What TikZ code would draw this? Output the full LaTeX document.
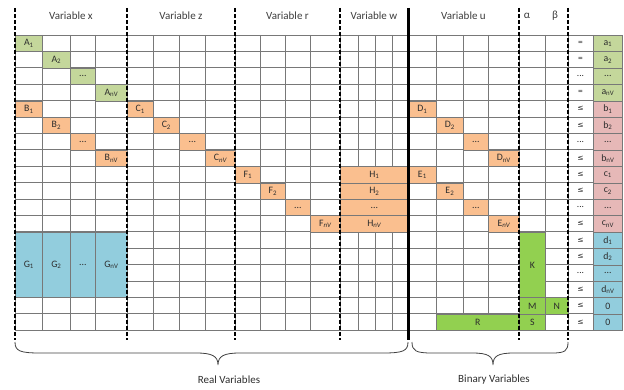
\documentclass[tikz,border=0pt]{standalone}
\usepackage{fontspec}
\setmainfont{Carlito}
\newfontfamily\symfont{DejaVu Sans}
\definecolor{cgreen}{RGB}{196,215,155}
\definecolor{corange}{RGB}{250,191,143}
\definecolor{cblue}{RGB}{146,205,221}
\definecolor{cpink}{RGB}{230,184,183}
\definecolor{cbright}{RGB}{146,208,80}
\definecolor{gridgray}{RGB}{120,120,120}
\definecolor{txt}{RGB}{45,45,45}
\definecolor{hdr}{RGB}{60,60,60}
\newcommand{\ssub}[1]{\textsubscript{#1}}
\newcommand{\myle}{{\symfont\fontsize{7.5}{8}\selectfont ≤}}
\newcommand{\mycell}[7]{\node[cellnode, fill=#6, minimum width={(#3-#2)*1pt}, minimum height={(#5-#4)*16.4pt}, anchor=north west] (#1) at (#2, {35+16.4*#4}) {#7};}
\newcommand{\myrel}[3]{\node[relnode] (#1) at (580.5, {35+16.4*#2+8.2}) {#3};}
\tikzset{
  cellnode/.style={draw=gridgray, line width=0.7pt, inner sep=0pt, text=txt, font=\fontsize{9.8}{10}\selectfont},
  relnode/.style={inner sep=0pt, text=txt, font=\fontsize{9.5}{10}\selectfont},
  gridline/.style={draw=gridgray, line width=0.7pt},
  dashline/.style={draw=black, line width=1.8pt, dash pattern=on 4pt off 2pt},
  thickline/.style={draw=black, line width=3pt},
  header/.style={text=hdr, font=\fontsize{11}{12}\selectfont, inner sep=0pt},
  bracetext/.style={text=txt, font=\fontsize{11}{12}\selectfont, inner sep=0pt},
  bracepath/.style={draw=black!75, line width=0.8pt}
}
\begin{document}
\begin{tikzpicture}[x=1pt,y=-1pt]
\useasboundingbox (0,0) rectangle (624,390);
% grid
\foreach \x in {15,42,70,95,127,153,179,205,235,260,285,310,340,358,375,392,408,436,463,488,519,545,568,593,622}
  \draw[gridline] (\x,35) -- (\x,330.2);
\foreach \i in {0,...,18}
  \draw[gridline] (15,{35+16.4*\i}) -- (622,{35+16.4*\i});
% A
\mycell{a1}{15}{42}{0}{1}{cgreen}{A\ssub{1}}
\mycell{a2}{42}{70}{1}{2}{cgreen}{A\ssub{2}}
\mycell{a3}{70}{95}{2}{3}{cgreen}{...}
\mycell{a4}{95}{127}{3}{4}{cgreen}{A\ssub{nV}}
% B
\mycell{b1}{15}{42}{4}{5}{corange}{B\ssub{1}}
\mycell{b2}{42}{70}{5}{6}{corange}{B\ssub{2}}
\mycell{b3}{70}{95}{6}{7}{corange}{...}
\mycell{b4}{95}{127}{7}{8}{corange}{B\ssub{nV}}
% C
\mycell{c1}{127}{153}{4}{5}{corange}{C\ssub{1}}
\mycell{c2}{153}{179}{5}{6}{corange}{C\ssub{2}}
\mycell{c3}{179}{205}{6}{7}{corange}{...}
\mycell{c4}{205}{235}{7}{8}{corange}{C\ssub{\itshape nV}}
% D
\mycell{d1}{408}{436}{4}{5}{corange}{D\ssub{1}}
\mycell{d2}{436}{463}{5}{6}{corange}{D\ssub{2}}
\mycell{d3}{463}{488}{6}{7}{corange}{...}
\mycell{d4}{488}{519}{7}{8}{corange}{D\ssub{nV}}
% F
\mycell{f1}{235}{260}{8}{9}{corange}{F\ssub{1}}
\mycell{f2}{260}{285}{9}{10}{corange}{F\ssub{2}}
\mycell{f3}{285}{310}{10}{11}{corange}{...}
\mycell{f4}{310}{340}{11}{12}{corange}{F\ssub{\itshape nV}}
% H
\mycell{h1}{340}{408}{8}{9}{corange}{H\ssub{1}}
\mycell{h2}{340}{408}{9}{10}{corange}{H\ssub{2}}
\mycell{h3}{340}{408}{10}{11}{corange}{...}
\mycell{h4}{340}{408}{11}{12}{corange}{H\ssub{\itshape nV}}
% E
\mycell{e1}{408}{436}{8}{9}{corange}{E\ssub{1}}
\mycell{e2}{436}{463}{9}{10}{corange}{E\ssub{2}}
\mycell{e3}{463}{488}{10}{11}{corange}{...}
\mycell{e4}{488}{519}{11}{12}{corange}{E\ssub{\itshape nV}}
% G
\mycell{g1}{15}{42}{12}{16}{cblue}{G\ssub{1}}
\mycell{g2}{42}{70}{12}{16}{cblue}{G\ssub{2}}
\mycell{g3}{70}{95}{12}{16}{cblue}{...}
\mycell{g4}{95}{127}{12}{16}{cblue}{G\ssub{nV}}
% binary blocks
\mycell{k}{519}{545}{12}{16}{cbright}{K}
\mycell{m}{519}{545}{16}{17}{cbright}{M}
\mycell{n}{545}{568}{16}{17}{cbright}{N}
\mycell{r}{436}{519}{17}{18}{cbright}{R}
\mycell{s}{519}{545}{17}{18}{cbright}{S}
% RHS
\mycell{ra1}{593}{622}{0}{1}{cgreen}{a\ssub{1}}
\mycell{ra2}{593}{622}{1}{2}{cgreen}{a\ssub{2}}
\mycell{ra3}{593}{622}{2}{3}{cgreen}{...}
\mycell{ra4}{593}{622}{3}{4}{cgreen}{a\ssub{nV}}
\mycell{rb1}{593}{622}{4}{5}{cpink}{b\ssub{1}}
\mycell{rb2}{593}{622}{5}{6}{cpink}{b\ssub{2}}
\mycell{rb3}{593}{622}{6}{7}{cpink}{...}
\mycell{rb4}{593}{622}{7}{8}{cpink}{b\ssub{nV}}
\mycell{rc1}{593}{622}{8}{9}{cpink}{c\ssub{1}}
\mycell{rc2}{593}{622}{9}{10}{cpink}{c\ssub{2}}
\mycell{rc3}{593}{622}{10}{11}{cpink}{...}
\mycell{rc4}{593}{622}{11}{12}{cpink}{c\ssub{nV}}
\mycell{rd1}{593}{622}{12}{13}{cblue}{d\ssub{1}}
\mycell{rd2}{593}{622}{13}{14}{cblue}{d\ssub{2}}
\mycell{rd3}{593}{622}{14}{15}{cblue}{...}
\mycell{rd4}{593}{622}{15}{16}{cblue}{d\ssub{nV}}
\mycell{rz1}{593}{622}{16}{17}{cblue}{0}
\mycell{rz2}{593}{622}{17}{18}{cblue}{0}
% relations
\myrel{q0}{0}{=}
\myrel{q1}{1}{=}
\myrel{q2}{2}{...}
\myrel{q3}{3}{=}
\myrel{q4}{4}{\myle}
\myrel{q5}{5}{\myle}
\myrel{q6}{6}{...}
\myrel{q7}{7}{\myle}
\myrel{q8}{8}{\myle}
\myrel{q9}{9}{\myle}
\myrel{q10}{10}{...}
\myrel{q11}{11}{\myle}
\myrel{q12}{12}{\myle}
\myrel{q13}{13}{\myle}
\myrel{q14}{14}{...}
\myrel{q15}{15}{\myle}
\myrel{q16}{16}{\myle}
\myrel{q17}{17}{\myle}
% separators
\foreach \x in {15,127,235,340,519,568}
  \draw[dashline] (\x,8) -- (\x,340);
\draw[thickline] (408,8) -- (408,340);
% headers
\node[header] (hx) at (71,16) {Variable x};
\node[header] (hz) at (181,16) {Variable z};
\node[header] (hr) at (287.5,16) {Variable r};
\node[header] (hw) at (374,16) {Variable w};
\node[header] (hu) at (463.5,16) {Variable u};
\node[header] (ha) at (527,16) {α};
\node[header] (hb) at (555,16) {β};
% braces
\draw[bracepath] (15,342) .. controls (15,351) and (20,353) .. (40,353) -- (196,353) .. controls (212,353) and (218,356) .. (218,365) .. controls (218,356) and (224,353) .. (240,353) -- (383,353) .. controls (403,353) and (408,351) .. (408,342);
\draw[bracepath] (412,342) .. controls (412,351) and (416,353) .. (432,353) -- (472,353) .. controls (488,353) and (493,356) .. (493,365) .. controls (493,356) and (498,353) .. (514,353) -- (552,353) .. controls (565,353) and (568,351) .. (568,342);
\node[bracetext] (rv) at (229,380) {Real Variables};
\node[bracetext] (bv) at (494,380) {Binary Variables};
\end{tikzpicture}
\end{document}
